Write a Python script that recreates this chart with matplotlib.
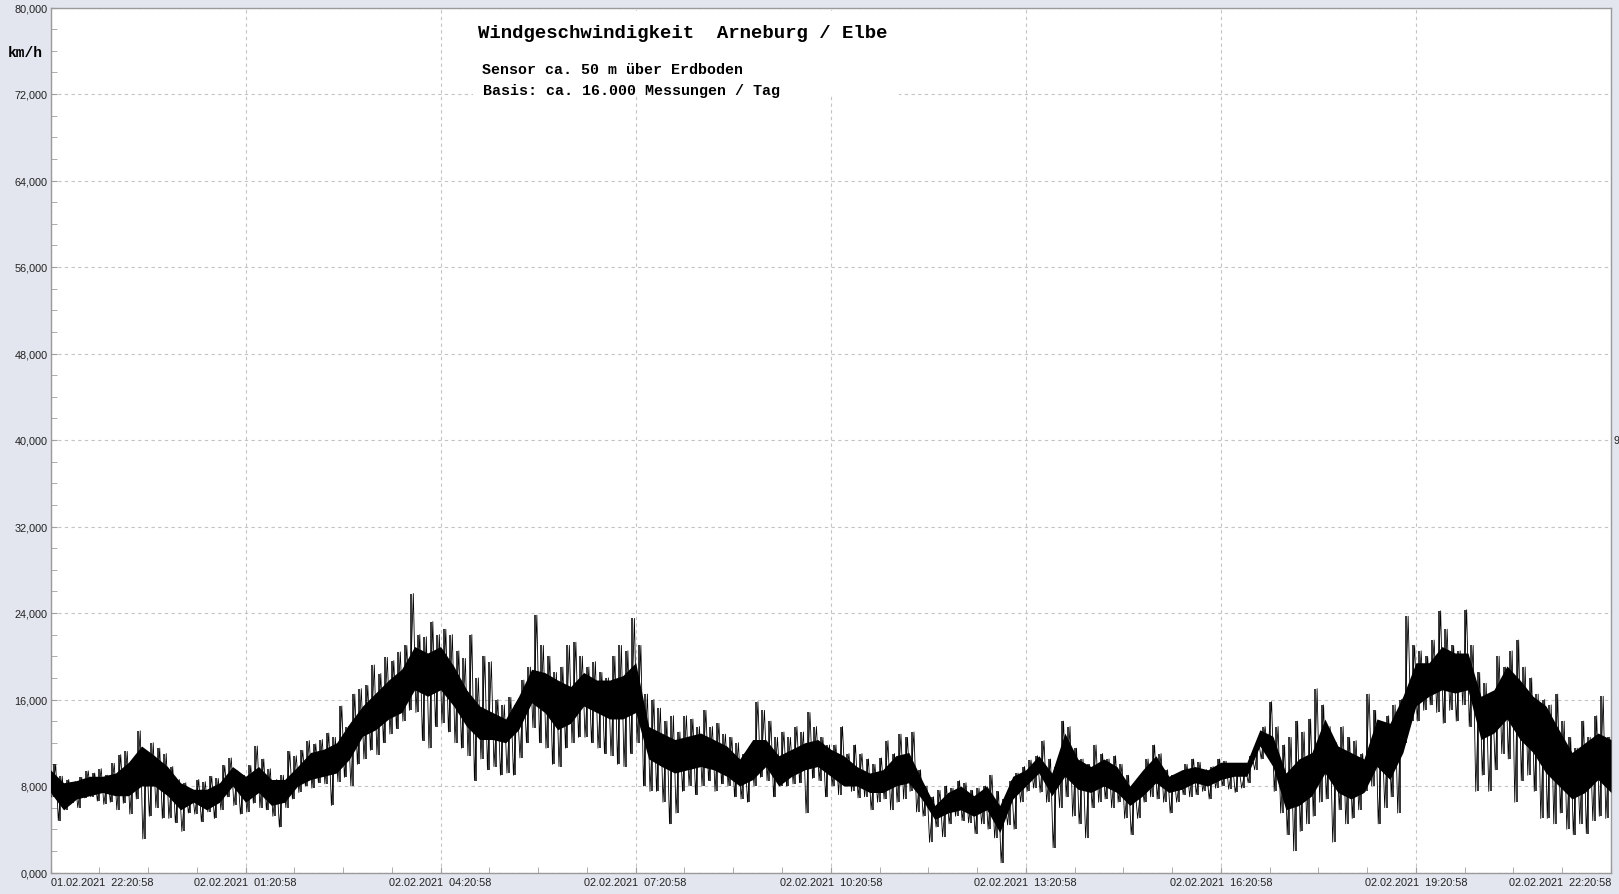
import numpy as np
import matplotlib.pyplot as plt
from matplotlib.patches import Rectangle
from matplotlib.ticker import MultipleLocator, FuncFormatter

# Windgeschwindigkeit km/h, Minimum/Maximum je 6-Minuten-Intervall (ab 01.02.2021 22:20:58)
hi = [
    10.0, 8.9, 8.6, 8.4, 8.8, 9.4, 9.2, 9.6, 9.0, 10.1,
    10.9, 11.2, 10.4, 13.1, 10.8, 12.0, 11.5, 11.0, 9.8, 8.6,
    8.3, 7.6, 8.6, 8.4, 8.9, 8.7, 9.9, 10.6, 9.4, 9.0,
    9.9, 11.7, 10.5, 9.6, 8.6, 9.0, 11.2, 10.8, 11.3, 12.2,
    11.9, 12.3, 12.9, 12.5, 15.4, 13.5, 16.5, 17.0, 17.3, 19.2,
    18.4, 19.9, 19.6, 20.4, 21.0, 25.8, 22.0, 21.8, 23.2, 22.0,
    22.5, 22.0, 20.5, 19.8, 22.0, 18.0, 20.0, 19.5, 16.0, 15.5,
    16.2, 15.5, 17.8, 19.0, 23.8, 21.0, 20.0, 18.5, 19.0, 21.0,
    21.3, 20.0, 19.0, 19.5, 18.5, 18.0, 20.0, 21.0, 20.5, 23.5,
    21.0, 16.5, 16.0, 15.2, 14.0, 14.5, 13.0, 14.5, 14.2, 13.5,
    15.0, 13.5, 13.8, 12.8, 12.5, 12.0, 11.0, 11.5, 15.8, 15.0,
    14.0, 12.5, 13.0, 12.5, 13.5, 13.0, 14.8, 13.5, 12.5, 11.8,
    11.8, 13.5, 11.0, 11.8, 11.0, 10.5, 10.0, 10.6, 12.2, 11.0,
    12.8, 12.5, 13.0, 9.5, 8.0, 7.0, 7.6, 8.0, 7.8, 8.5,
    8.3, 7.6, 7.8, 8.0, 9.0, 7.5, 6.8, 8.5, 9.2, 9.8,
    10.4, 10.8, 12.2, 10.5, 9.8, 14.0, 13.5, 11.5, 10.5, 10.0,
    11.8, 11.0, 10.5, 10.8, 10.0, 9.0, 7.8, 8.5, 10.5, 11.8,
    11.0, 9.5, 9.0, 9.2, 10.0, 10.5, 10.2, 9.5, 9.8, 10.5,
    10.3, 10.0, 9.6, 9.6, 10.8, 12.2, 13.5, 15.8, 13.5, 11.8,
    12.5, 14.0, 13.0, 14.2, 17.0, 15.5, 13.5, 12.0, 13.5, 12.5,
    12.2, 11.0, 16.5, 15.0, 13.0, 14.5, 15.5, 16.0, 23.7, 21.0,
    20.5, 20.0, 21.5, 24.2, 22.5, 21.0, 20.5, 24.3, 21.0, 18.5,
    17.5, 16.0, 20.0, 19.0, 20.5, 21.5, 19.0, 18.0, 16.5, 16.0,
    15.5, 16.5, 14.0, 12.5, 11.5, 14.0, 12.5, 14.5, 16.3, 12.5,
]
lo = [
    7.0, 4.8, 5.8, 6.4, 6.0, 6.9, 7.0, 6.6, 6.3, 6.5,
    5.8, 6.4, 5.4, 6.8, 3.1, 5.2, 6.0, 5.0, 5.0, 4.6,
    3.8, 5.5, 5.4, 4.7, 5.6, 5.0, 5.8, 7.0, 6.2, 5.4,
    5.6, 6.4, 6.0, 5.8, 5.2, 4.2, 6.0, 6.8, 7.4, 8.0,
    7.8, 8.3, 8.2, 6.2, 8.4, 8.8, 8.0, 10.0, 10.5, 11.3,
    10.9, 12.0, 12.8, 13.3, 14.0, 15.0, 14.8, 12.2, 11.5, 13.5,
    13.8, 13.0, 12.0, 11.5, 10.8, 8.5, 10.5, 9.5, 9.8, 9.0,
    9.2, 9.0, 10.6, 12.0, 13.4, 12.0, 11.5, 10.0, 9.8, 11.5,
    12.0, 12.5, 12.5, 12.0, 11.5, 11.0, 10.8, 10.0, 9.8, 11.0,
    12.0, 8.0, 7.5, 7.5, 6.5, 4.5, 5.5, 7.5, 8.0, 7.2,
    8.0, 8.5, 7.5, 8.2, 8.0, 7.0, 6.8, 6.5, 8.0, 8.8,
    8.5, 7.0, 8.0, 8.0, 8.2, 8.3, 5.5, 8.7, 8.5, 7.0,
    8.0, 7.2, 8.2, 7.5, 6.9, 7.0, 5.8, 6.5, 6.8, 5.8,
    6.5, 6.8, 7.5, 5.6, 5.2, 2.8, 4.2, 3.3, 4.5, 5.2,
    4.8, 4.6, 3.6, 4.5, 4.0, 3.2, 0.9, 4.4, 4.0, 6.5,
    7.5, 7.8, 7.4, 6.5, 2.3, 6.0, 7.0, 5.2, 4.5, 3.2,
    6.0, 6.5, 6.8, 6.0, 6.5, 5.0, 3.5, 5.0, 6.5, 7.0,
    6.8, 6.5, 5.5, 6.5, 7.2, 7.0, 7.2, 7.5, 6.8, 7.8,
    8.0, 7.7, 7.4, 7.8, 8.3, 9.5, 10.5, 11.0, 7.5, 5.5,
    3.5, 2.0, 3.8, 4.5, 5.2, 6.5, 6.8, 2.8, 5.8, 4.5,
    5.0, 5.8, 7.5, 8.0, 4.5, 6.0, 7.0, 5.5, 12.0, 14.0,
    14.0, 15.0, 15.5, 14.8, 13.8, 15.0, 14.0, 15.5, 13.5, 7.5,
    9.0, 7.5, 9.5, 11.0, 10.5, 6.5, 8.5, 9.0, 7.5, 5.0,
    5.0, 4.5, 5.5, 4.0, 3.5, 4.5, 3.6, 4.8, 5.2, 5.0,
]
# dichter Kernbereich der Messwerte, alle 12 Minuten (0 bis 24 h)
kern_hi = [
    9.5, 8.3, 8.5, 8.9, 8.9, 9.2, 10.2, 11.7, 10.8, 9.8,
    8.3, 7.7, 7.7, 8.3, 9.8, 8.9, 9.8, 8.6, 8.6, 9.8,
    11.1, 11.4, 12.0, 13.8, 15.4, 16.6, 17.8, 18.8, 20.9, 20.3,
    20.9, 19.1, 16.9, 15.4, 14.8, 14.2, 16.3, 18.8, 18.5, 17.8,
    17.2, 18.5, 17.8, 17.8, 18.2, 19.4, 13.5, 12.9, 12.3, 12.6,
    12.9, 12.3, 11.7, 10.5, 12.3, 12.3, 10.8, 11.4, 12.0, 12.3,
    11.4, 10.8, 9.8, 9.2, 9.5, 10.8, 11.1, 8.6, 6.2, 7.4,
    8.0, 7.1, 8.0, 6.2, 8.9, 9.5, 10.8, 9.2, 12.9, 10.5,
    9.8, 10.5, 9.8, 8.0, 9.5, 10.8, 8.9, 9.5, 9.8, 9.5,
    10.2, 10.2, 10.2, 13.2, 12.6, 9.2, 10.5, 11.1, 14.2, 11.7,
    11.1, 10.5, 14.2, 13.8, 16.3, 19.4, 19.4, 20.9, 20.3, 20.3,
    16.3, 16.9, 19.1, 17.8, 16.3, 15.4, 13.2, 11.1, 12.0, 12.9,
    12.3,
]
kern_lo = [
    7.4, 5.8, 6.8, 7.1, 7.4, 7.1, 7.1, 8.0, 8.0, 7.1,
    5.8, 6.5, 5.8, 6.5, 8.0, 6.5, 7.4, 6.2, 6.5, 8.0,
    8.6, 8.9, 9.2, 10.5, 12.6, 13.2, 14.2, 14.8, 16.9, 16.3,
    16.9, 15.4, 13.5, 12.3, 12.3, 12.0, 13.2, 15.7, 14.8, 13.2,
    13.8, 15.4, 14.8, 14.2, 14.2, 14.8, 10.5, 9.8, 9.2, 9.5,
    9.8, 9.5, 8.9, 8.0, 8.6, 9.8, 8.0, 8.9, 9.5, 9.8,
    8.9, 8.0, 8.0, 7.4, 7.4, 8.0, 8.3, 6.8, 4.9, 5.5,
    5.8, 5.2, 5.8, 3.7, 6.8, 8.0, 9.2, 7.1, 8.9, 7.7,
    7.4, 8.0, 7.4, 6.2, 7.1, 8.3, 7.4, 7.7, 8.3, 8.0,
    8.6, 8.9, 8.9, 11.7, 9.8, 5.8, 6.2, 7.1, 9.2, 7.4,
    6.8, 7.4, 9.8, 8.6, 11.1, 15.4, 16.3, 16.9, 16.6, 16.9,
    12.3, 12.9, 14.2, 12.3, 11.1, 9.2, 8.0, 6.8, 7.4, 8.6,
    7.4,
]
zeit_labels = [
    '01.02.2021  22:20:58', '02.02.2021  01:20:58', '02.02.2021  04:20:58',
    '02.02.2021  07:20:58', '02.02.2021  10:20:58', '02.02.2021  13:20:58',
    '02.02.2021  16:20:58', '02.02.2021  19:20:58', '02.02.2021  22:20:58',
]

bg = '#e3e6ee'
fig = plt.figure(figsize=(16.19, 8.95), dpi=100, facecolor=bg)
ax = fig.add_axes([50.5 / 1619, 21.5 / 895, 1560.5 / 1619, 865 / 895])

# Stunden ab Start
dt = 0.1
t0 = np.arange(len(hi)) * dt
tk = np.arange(len(kern_lo)) * 0.2
ax.fill_between(tk, kern_lo, kern_hi, color='black', lw=0, zorder=3)
ax.vlines(t0 + 0.5 * dt, lo, hi, color='black', lw=1.1, zorder=3)
xs = np.column_stack([t0 + 0.2 * dt, t0 + 0.8 * dt]).ravel()
ys = np.column_stack([lo, hi]).ravel()
ax.plot(xs, ys, color='black', lw=0.6, zorder=3)

ax.set_xlim(0, 24)
ax.set_ylim(0, 80)
ax.set_axisbelow(True)

ax.yaxis.set_major_locator(MultipleLocator(8))
ax.yaxis.set_minor_locator(MultipleLocator(2))
ax.yaxis.set_major_formatter(FuncFormatter(lambda v, p: f'{v:.3f}'.replace('.', ',')))
ax.set_xticks(np.arange(0, 25, 3))
ax.set_xticklabels(zeit_labels)
ax.xaxis.set_minor_locator(MultipleLocator(0.75))

ax.tick_params(which='both', direction='in', length=4, color='#a0a0a0',
               labelsize=7.8, labelcolor='#222222', pad=2)
ax.tick_params(axis='x', pad=3)
for lab in ax.get_xticklabels() + ax.get_yticklabels():
    lab.set_fontfamily('Liberation Sans')
xl = ax.get_xticklabels()
xl[0].set_ha('left')
xl[-1].set_ha('right')
yl = ax.get_yticklabels()
yl[0].set_va('bottom')
yl[-1].set_va('top')

ax.grid(True, which='major', color='#c4c4c4', linestyle=(0, (3, 3)), lw=0.8)
for s in ax.spines.values():
    s.set_color('#9a9a9a')
    s.set_linewidth(1.0)

# weisse Box hinter dem Titel
ax.add_patch(Rectangle((0.271, 0.898), 0.273, 0.098, transform=ax.transAxes,
                       facecolor='white', edgecolor='none', zorder=1))

fig.text(478 / 1619, 1 - 33 / 895, 'Windgeschwindigkeit  Arneburg / Elbe',
         family='Liberation Mono', weight='bold', fontsize=13.7, va='center')
fig.text(482 / 1619, 1 - 70 / 895, 'Sensor ca. 50 m über Erdboden',
         family='Liberation Mono', weight='bold', fontsize=10.8, va='center')
fig.text(483 / 1619, 1 - 91 / 895, 'Basis: ca. 16.000 Messungen / Tag',
         family='Liberation Mono', weight='bold', fontsize=10.8, va='center')
fig.text(25 / 1619, 1 - 53 / 895, 'km/h', family='Liberation Mono',
         weight='bold', fontsize=10.5, ha='center', va='center')
fig.text(1613 / 1619, 1 - 441 / 895, '9', family='Liberation Sans',
         fontsize=7.8, ha='left', va='center', color='#222222')

fig.savefig('out.png', dpi=100, facecolor=bg)
